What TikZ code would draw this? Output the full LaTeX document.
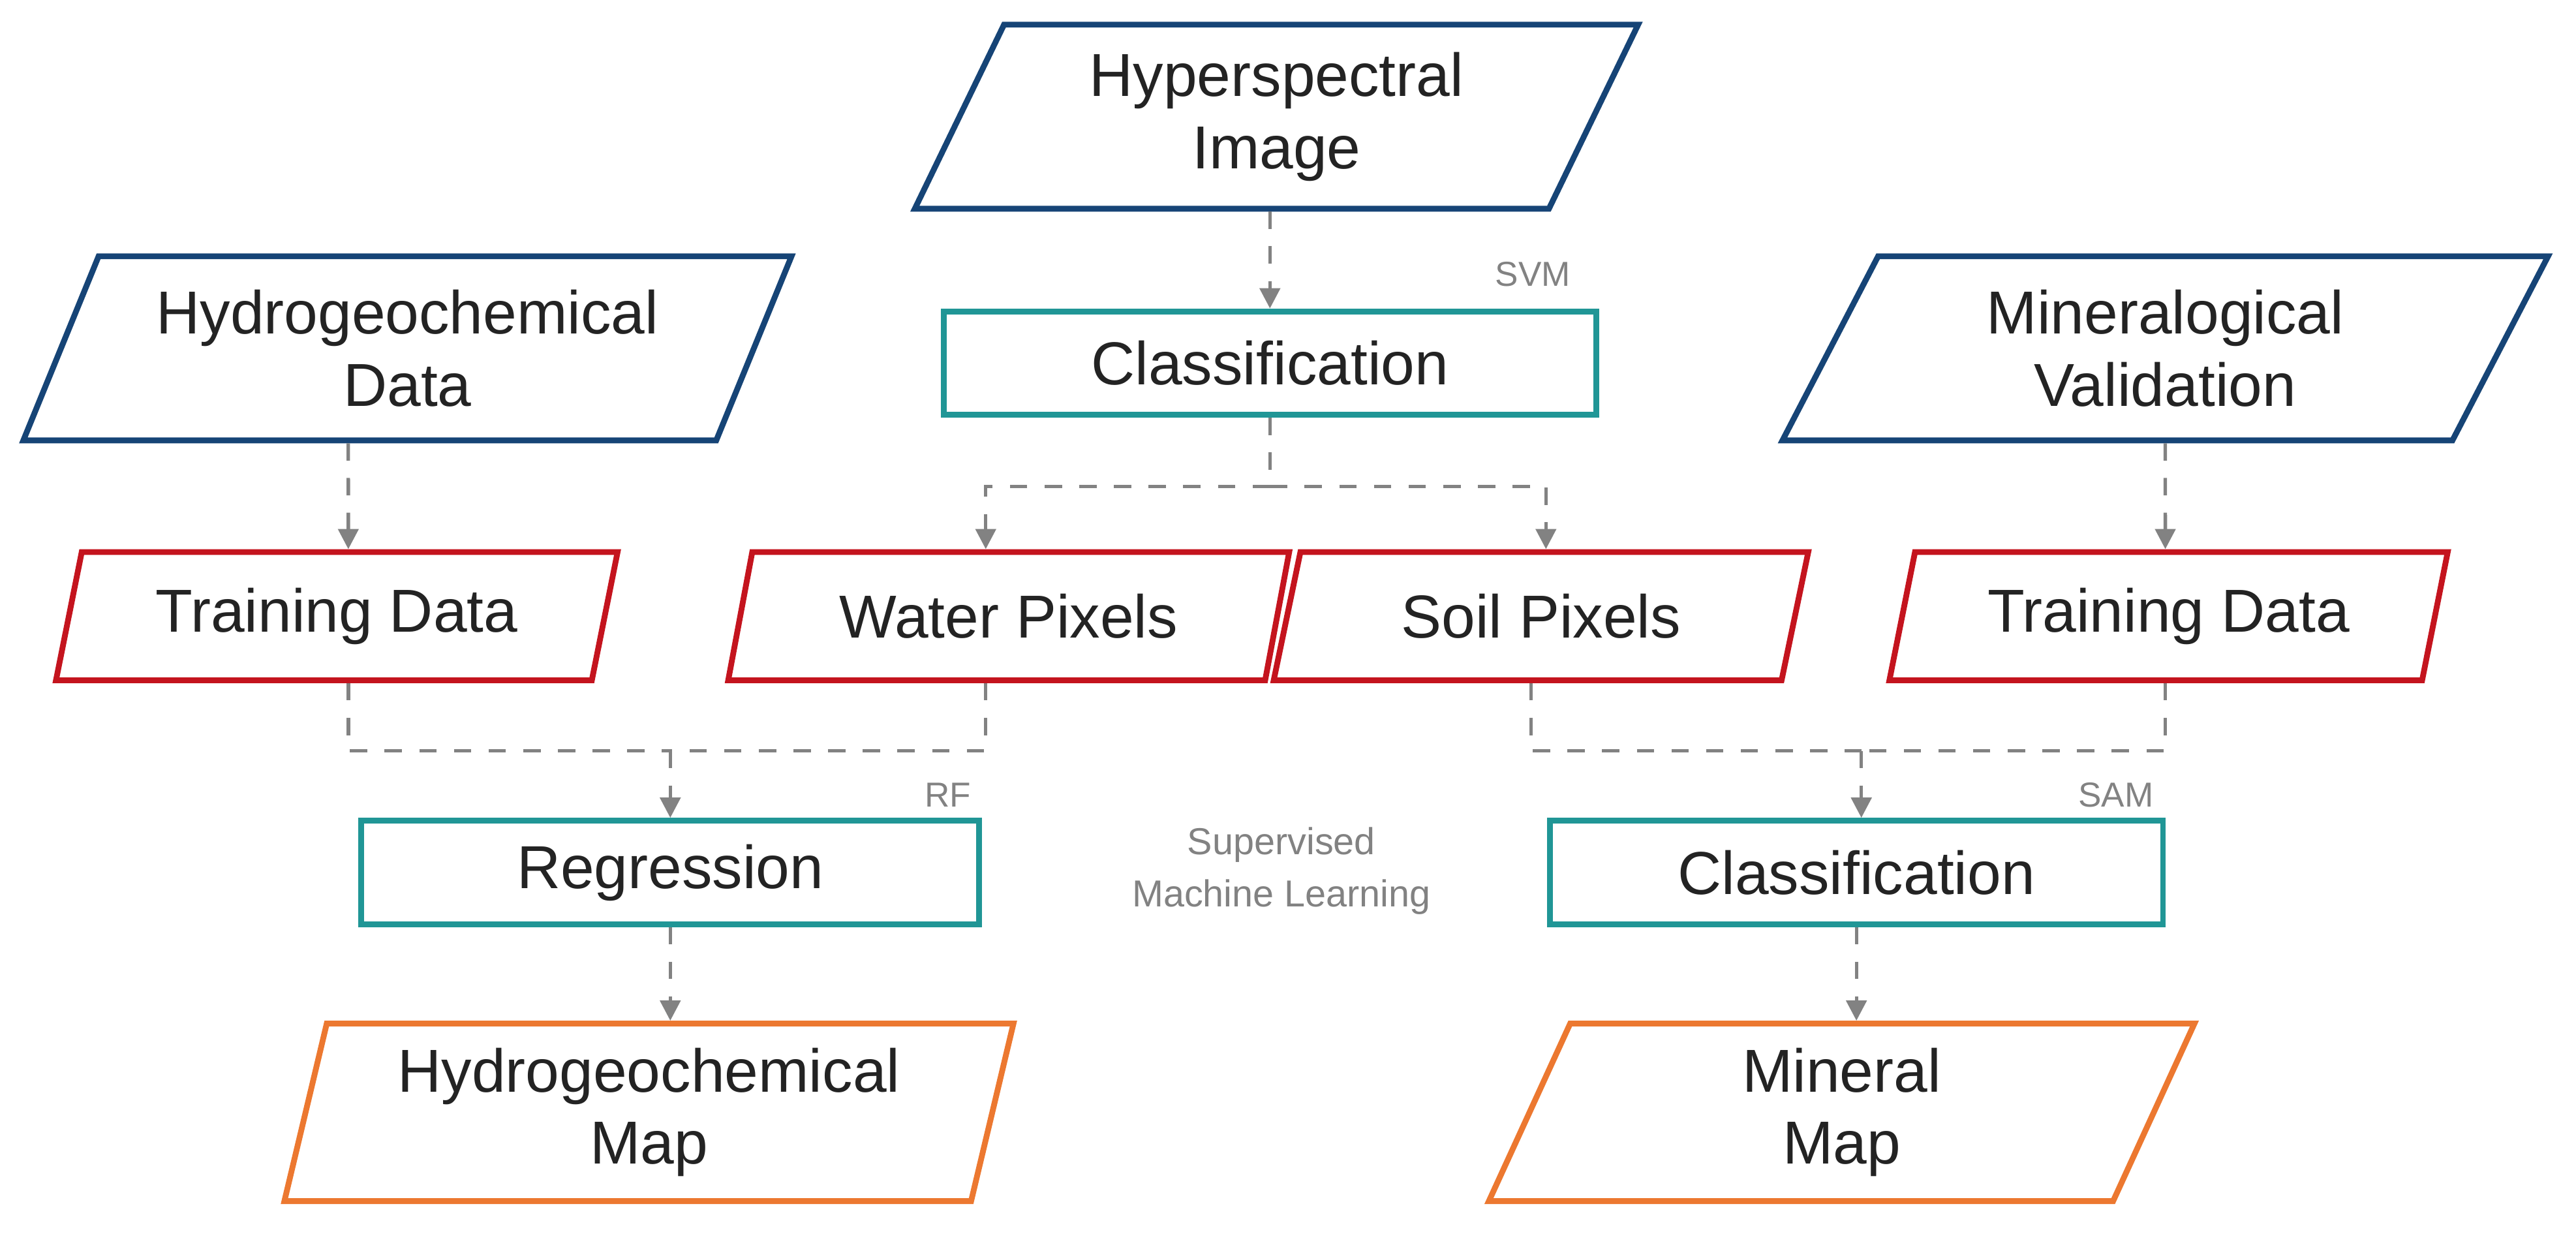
\documentclass[tikz,border=0pt]{standalone}
\usepackage{fontspec}
\setmainfont{Liberation Sans}
\usetikzlibrary{arrows.meta,positioning,shapes.geometric,calc}
\definecolor{inblue}{RGB}{22,68,118}
\definecolor{procteal}{RGB}{32,150,150}
\definecolor{midred}{RGB}{196,20,30}
\definecolor{outorange}{RGB}{236,120,48}
\definecolor{connGray}{RGB}{130,130,130}
\definecolor{txt}{RGB}{35,35,35}
\tikzset{
  para/.style={draw,trapezium,trapezium stretches=true,line width=1pt,align=center,font=\fontsize{10.5}{12.5}\selectfont},
  inpara/.style={para,draw=inblue,text=txt,trapezium left angle=67,trapezium right angle=113,minimum width=4.68cm,minimum height=1.12cm},
  midpara/.style={para,draw=midred,text=txt,trapezium left angle=78,trapezium right angle=102,minimum width=3.42cm,minimum height=0.78cm},
  outpara/.style={para,draw=outorange,text=txt,trapezium left angle=78,trapezium right angle=102,minimum width=4.44cm,minimum height=1.08cm},
  proc/.style={draw=procteal,text=txt,line width=1pt,minimum width=3.8cm,minimum height=0.63cm,font=\fontsize{10.5}{12.5}\selectfont},
  tag/.style={text=connGray,font=\fontsize{6}{7.5}\selectfont,align=center},
  conn/.style={connGray,dashed,line width=0.6pt,-{Triangle[length=3.5pt,width=3.5pt]}},
  link/.style={connGray,dashed,line width=0.6pt}
}
\begin{document}
\begin{tikzpicture}[x=0.01cm,y=-0.01cm]
\useasboundingbox (0,0) rectangle (1568,751);

\node (hsi) [inpara,minimum width=4.42cm,trapezium left angle=68,trapezium right angle=112] at (777,71) {Hyperspectral\\Image};
\node (hydro) [inpara] at (248,212) {Hydrogeochemical\\Data};
\node (minval) [inpara] at (1318,212) {Mineralogical\\Validation};

\node (cls1) [proc,minimum width=3.97cm] at (773,221) {Classification};
\node[tag] at (933,167) {SVM};

\node (trainL) [midpara] at (205,375) {Training Data};
\node (water) [midpara,minimum width=3.42cm] at (614,375) {Water Pixels};
\node (soil) [midpara,minimum width=3.26cm] at (938,375) {Soil Pixels};
\node (trainR) [midpara,minimum width=3.4cm] at (1320,375) {Training Data};

\node (reg) [proc,minimum width=3.76cm] at (408,531) {Regression};
\node (cls2) [proc,minimum width=3.73cm] at (1130,531) {Classification};
\node[tag] at (577,484) {RF};
\node[tag] at (1288,484) {SAM};
\node[tag,font=\fontsize{6.5}{9}\selectfont] at (780,530) {Supervised\\Machine Learning};

\node (hmap) [outpara] at (395,677) {Hydrogeochemical\\Map};
\node (mmap) [outpara,minimum width=4.3cm] at (1121,677) {Mineral\\Map};

% top part
\draw[conn] (hsi.south -| cls1.north) -- (cls1.north);
\coordinate (split) at (773,296);
\draw[link] (cls1.south) -- (split);
\draw[conn] (split) -| ($(water.north)+(-14,0)$);
\draw[conn] (split) -| ($(soil.north)+(3,0)$);
\draw[conn] ($(hydro.south)+(-36,0)$) -- ($(trainL.north)+(7,0)$);
\draw[conn] (minval.south) -- ($(trainR.north)+(-2,0)$);

% merging
\coordinate (mergeL) at (408,457);
\coordinate (mergeR) at (1133,457);
\draw[link] ($(trainL.south)+(7,0)$) |- (mergeL);
\draw[link] ($(water.south)+(-14,0)$) |- (mergeL);
\draw[conn] (mergeL) -- (reg.north -| mergeL);
\draw[link] ($(soil.south)+(-6,0)$) |- (mergeR);
\draw[link] ($(trainR.south)+(-2,0)$) |- (mergeR);
\draw[conn] (mergeR) -- (cls2.north -| mergeR);

% outputs
\draw[conn] (reg.south) -- (hmap.north -| reg.south);
\draw[conn] (cls2.south) -- (mmap.north -| cls2.south);
\end{tikzpicture}
\end{document}
